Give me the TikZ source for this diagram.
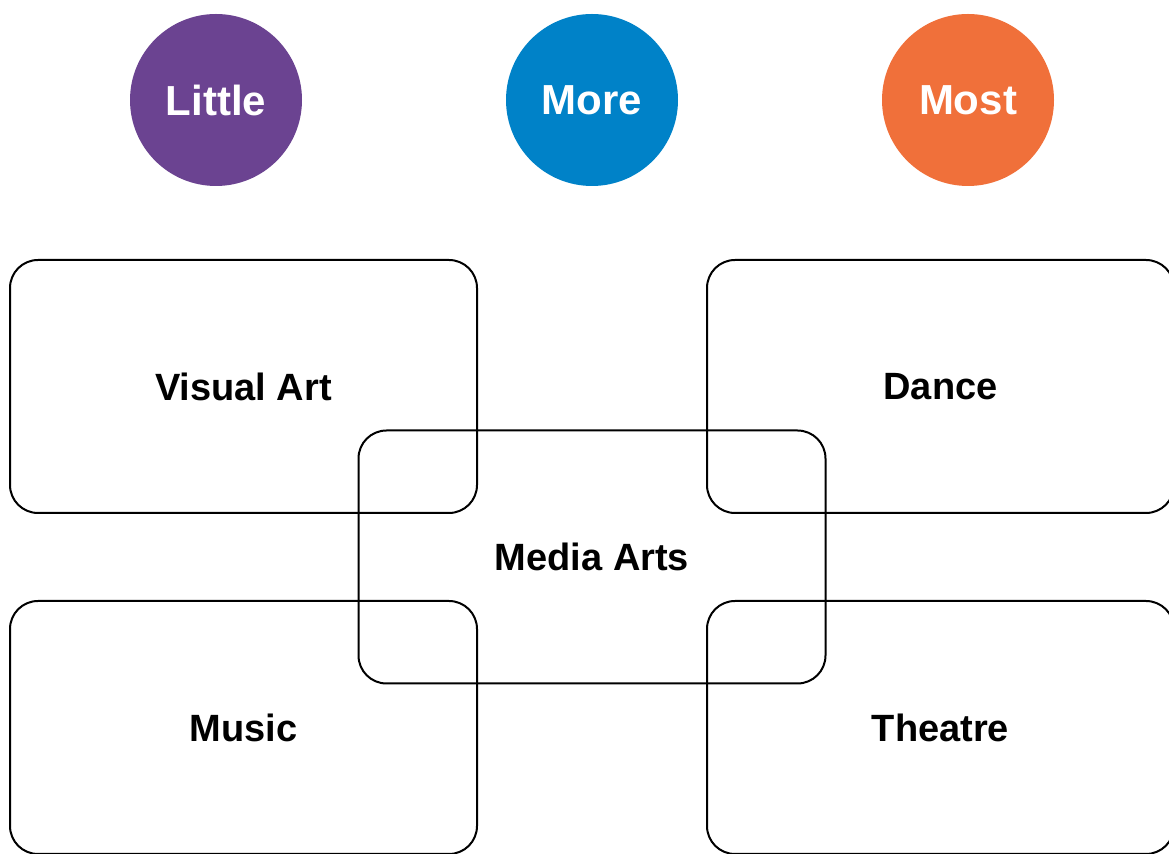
\documentclass[tikz,border=0pt]{standalone}
\usepackage{fontspec}
\setmainfont{Liberation Sans}
\definecolor{littlepurple}{HTML}{6B4391}
\definecolor{moreblue}{HTML}{0082C8}
\definecolor{mostorange}{HTML}{F0703A}
\tikzset{
        level/.style={circle, text=white, inner sep=0pt, minimum size=86pt, font=\fontsize{21}{25}\selectfont\bfseries},
        artbox/.style={rectangle, draw=black, line width=1pt, rounded corners=14pt, inner sep=0pt,
          minimum width=233.5pt, minimum height=126.5pt, font=\fontsize{19}{23}\selectfont\bfseries}
          }
\begin{document}
\begin{tikzpicture}[x=0.5pt, y=0.5pt]
        \useasboundingbox (0,0) rectangle (1169,-854);
        \clip (0,0) rectangle (1169,-854);
        % scale of involvement
        \node[level, fill=littlepurple] (little) at (216,-100) {Little};
        \node[level, fill=moreblue] (more) at (592,-100) {More};
        \node[level, fill=mostorange] (most) at (968,-100) {Most};
        % art forms
        \node[artbox] (visual) at (243.5,-386.5) {Visual Art};
        \node[artbox] (dance) at (940.5,-386.5) {Dance};
        \node[artbox] (media) at (592,-557) {Media Arts};
        \node[artbox] (music) at (243.5,-727.5) {Music};
        \node[artbox] (theatre) at (940.5,-727.5) {Theatre};
      \end{tikzpicture}
\end{document}
